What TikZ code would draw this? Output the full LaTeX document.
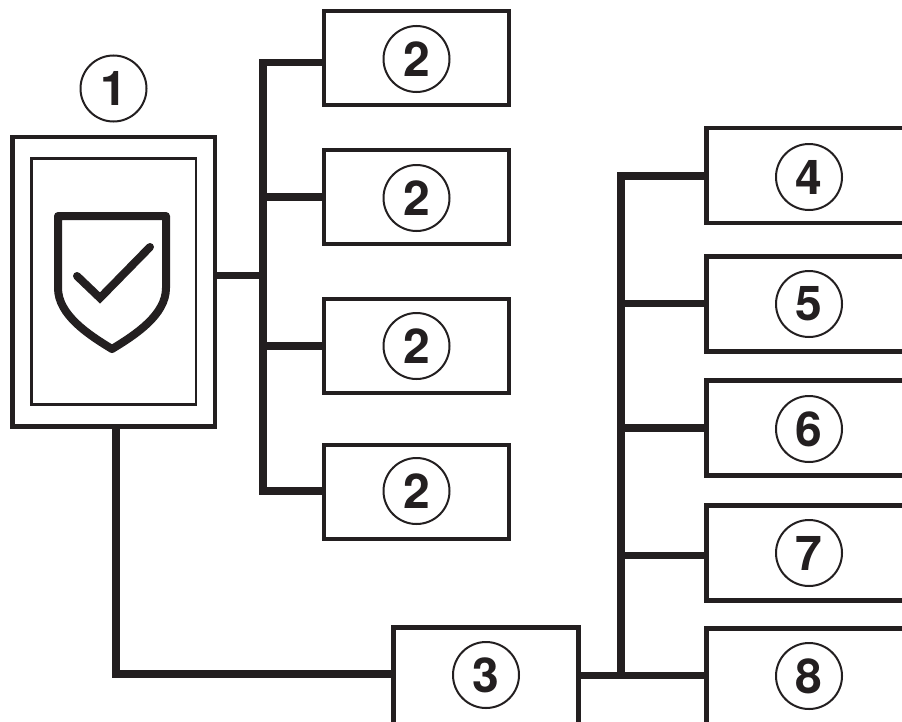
\documentclass[tikz,border=0pt]{standalone}
\usepackage{fontspec}
\setmainfont{TeX Gyre Heros}
\definecolor{ink}{HTML}{231F20}
\tikzset{
  x=0.75pt,y=-0.75pt,
  frame/.style={draw=ink,line width=3.4pt,fill=white,rectangle,inner sep=0pt,outer sep=0pt},
  inset/.style={draw=ink,line width=1.9pt,rectangle,inner sep=0pt,outer sep=0pt,minimum width=123.5pt,minimum height=184.4pt},
  smallbox/.style={frame,minimum width=138.75pt,minimum height=70.5pt},
  widebox/.style={frame,minimum width=165pt,minimum height=74pt,anchor=west},
  badge/.style={draw=ink,line width=1.5pt,circle,inner sep=0pt,outer sep=0pt,minimum size=49.5pt,text=ink,font=\fontsize{36}{36}\selectfont\bfseries},
  wire/.style={draw=ink,line width=5.8pt,miter limit=10},
  shieldline/.style={draw=ink,line width=6pt,line join=round,line cap=round}
}
\begin{document}
\begin{tikzpicture}
\useasboundingbox (0,0) rectangle (902,721);
\clip (0,0) rectangle (902,721);
% main block
\node[frame,minimum width=152pt,minimum height=217.1pt] (main) at (113.6,281.5) {};
\node[inset] (inner) at (113.6,281.5) {};
\node[badge] (b1) at (113.5,88.5) {1};
% shield and tick
\draw[shieldline] (58,216) -- (166,216) -- (166,288)
  .. controls (166,315) and (135,335) .. (112,349)
  .. controls (89,335) and (58,315) .. (58,288) -- cycle;
\draw[draw=ink,line width=6pt,line cap=round,miter limit=10] (77,276) -- (100,298) -- (150,247);
% group 2
\node[smallbox] (a1) at (416.5,58) {};
\node[smallbox] (a2) at (416.5,197) {};
\node[smallbox] (a3) at (416.5,346) {};
\node[smallbox] (a4) at (416.5,492) {};
\node[badge] (n1) at (416.5,59) {2};
\node[badge] (n2) at (416.5,198) {2};
\node[badge] (n3) at (416.5,346) {2};
\node[badge] (n4) at (416.5,491) {2};
% box 3
\node[frame,minimum width=138.75pt,minimum height=74pt] (c) at (486,677) {};
\node[badge] (n5) at (486,675) {3};
% right column
\node[widebox,minimum height=71.5pt] (d4) at (706.5,175.5) {};
\node[widebox,minimum height=71.5pt] (d5) at (706.5,304) {};
\node[widebox,minimum height=71.5pt] (d6) at (706.5,428) {};
\node[widebox,minimum height=71.5pt] (d7) at (706.5,553) {};
\node[widebox] (d8) at (706.5,678) {};
\node[badge] (m4) at (809,177) {4};
\node[badge] (m5) at (809,304) {5};
\node[badge] (m6) at (809,429) {6};
\node[badge] (m7) at (809,553) {7};
\node[badge] (m8) at (809,676) {8};
% junctions
\coordinate (ta) at (263,62.5);
\coordinate (tb) at (263,197);
\coordinate (tm) at (263,275.5);
\coordinate (tc) at (263,346);
\coordinate (td) at (263,491);
\coordinate (ra) at (621,176);
\coordinate (rb) at (621,303.5);
\coordinate (rc) at (621,428);
\coordinate (rd) at (621,555.5);
\coordinate (re) at (621,675.5);
\coordinate (elbow) at (116,674);
% connectors
\draw[wire] (a1.west |- ta) -- (ta) -- (td) -- (a4.west |- td);
\draw[wire] (tb) -- (a2.west |- tb);
\draw[wire] (tc) -- (a3.west |- tc);
\draw[wire] (main.east |- tm) -- (tm);
\draw[wire] (main.south -| elbow) -- (elbow) -- (c.west |- elbow);
\draw[wire] (d4.west |- ra) -- (ra) -- (re);
\draw[wire] (rb) -- (d5.west |- rb);
\draw[wire] (rc) -- (d6.west |- rc);
\draw[wire] (rd) -- (d7.west |- rd);
\draw[wire] (c.east |- re) -- (d8.west |- re);
\end{tikzpicture}
\end{document}
